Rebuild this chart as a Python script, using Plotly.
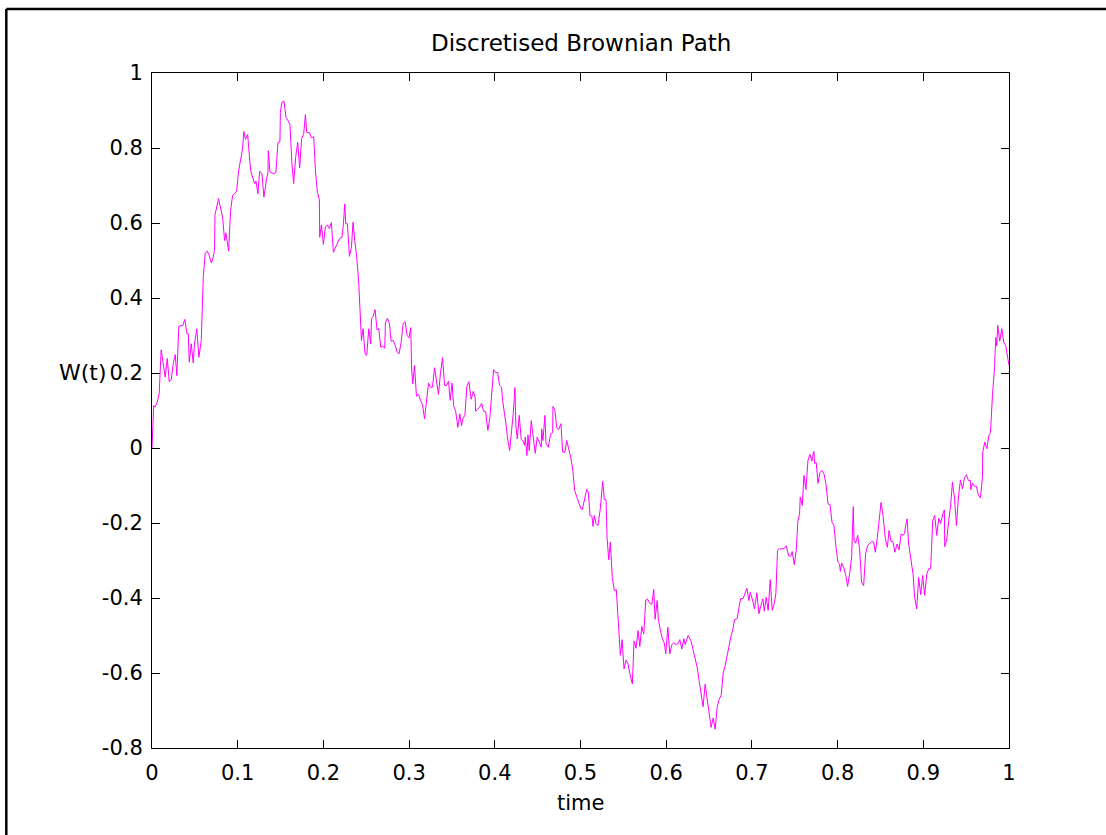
import plotly.graph_objects as go

# Discretised Brownian path W(t) on [0, 1]
t_vals = [
    0.0, 0.002, 0.0035, 0.0061, 0.0084, 0.0107, 0.0131, 0.0154, 0.0178, 0.0201,
    0.0224, 0.0248, 0.0271, 0.0290, 0.0313, 0.0360, 0.0383, 0.0407, 0.0423, 0.0435,
    0.0458, 0.0481, 0.0496, 0.0523, 0.0547, 0.0575, 0.0598, 0.0621, 0.0645, 0.0668,
    0.0692, 0.0710, 0.0730, 0.0735, 0.0777, 0.0800, 0.0824, 0.0847, 0.0862, 0.0894,
    0.0917, 0.0940, 0.0987, 0.1010, 0.1046, 0.1057, 0.1072, 0.1092, 0.1116, 0.1151,
    0.1197, 0.1213, 0.1236, 0.1256, 0.1283, 0.1306, 0.1334, 0.1353, 0.1357, 0.1376,
    0.1423, 0.1446, 0.1470, 0.1493, 0.1498, 0.1516, 0.1540, 0.1563, 0.1586, 0.1610,
    0.1633, 0.1653, 0.1676, 0.1700, 0.1723, 0.1746, 0.1770, 0.1790, 0.1805, 0.1836,
    0.1860, 0.1887, 0.1907, 0.1930, 0.1953, 0.1957, 0.1977, 0.2000, 0.2023, 0.2047,
    0.2070, 0.2093, 0.2117, 0.2140, 0.2187, 0.2217, 0.2234, 0.2249, 0.2261, 0.2280,
    0.2304, 0.2327, 0.2346, 0.2366, 0.2389, 0.2412, 0.2428, 0.2444, 0.2463, 0.2486,
    0.2506, 0.2529, 0.2553, 0.2561, 0.2580, 0.2603, 0.2626, 0.2646, 0.2669, 0.2693,
    0.2716, 0.2724, 0.2748, 0.2771, 0.2790, 0.2813, 0.2836, 0.2860, 0.2883, 0.2907,
    0.2930, 0.2953, 0.2977, 0.3000, 0.3020, 0.3028, 0.3043, 0.3063, 0.3086, 0.3110,
    0.3133, 0.3157, 0.3180, 0.3203, 0.3227, 0.3250, 0.3273, 0.3297, 0.3320, 0.3343,
    0.3367, 0.3390, 0.3414, 0.3437, 0.3460, 0.3479, 0.3502, 0.3519, 0.3542, 0.3569,
    0.3592, 0.3612, 0.3627, 0.3651, 0.3674, 0.3697, 0.3724, 0.3748, 0.3771, 0.3776,
    0.3799, 0.3822, 0.3846, 0.3869, 0.3893, 0.3919, 0.3943, 0.3963, 0.3986, 0.4009,
    0.4033, 0.4056, 0.4079, 0.4091, 0.4110, 0.4130, 0.4150, 0.4173, 0.4196, 0.4215,
    0.4235, 0.4246, 0.4262, 0.4285, 0.4308, 0.4332, 0.4348, 0.4355, 0.4375, 0.4387,
    0.4402, 0.4425, 0.4449, 0.4472, 0.4495, 0.4519, 0.4542, 0.4547, 0.4562, 0.4585,
    0.4597, 0.4624, 0.4652, 0.4675, 0.4679, 0.4702, 0.4722, 0.4745, 0.4772, 0.4792,
    0.4819, 0.4839, 0.4862, 0.4886, 0.4909, 0.4932, 0.4956, 0.4979, 0.5006, 0.5021,
    0.5044, 0.5072, 0.5091, 0.5111, 0.5134, 0.5146, 0.5161, 0.5181, 0.5204, 0.5231,
    0.5259, 0.5278, 0.5298, 0.5310, 0.5329, 0.5348, 0.5371, 0.5395, 0.5418, 0.5438,
    0.5465, 0.5485, 0.5508, 0.5532, 0.5555, 0.5578, 0.5605, 0.5625, 0.5648, 0.5672,
    0.5692, 0.5715, 0.5738, 0.5762, 0.5785, 0.5808, 0.5832, 0.5855, 0.5870, 0.5894,
    0.5909, 0.5932, 0.5956, 0.5979, 0.5995, 0.6019, 0.6042, 0.6065, 0.6089, 0.6112,
    0.6135, 0.6159, 0.6182, 0.6206, 0.6221, 0.6256, 0.6291, 0.6326, 0.6361, 0.6384,
    0.6408, 0.6431, 0.6454, 0.6478, 0.6501, 0.6524, 0.6548, 0.6571, 0.6595, 0.6618,
    0.6641, 0.6665, 0.6688, 0.6711, 0.6735, 0.6758, 0.6781, 0.6797, 0.6828, 0.6867,
    0.6898, 0.6942, 0.6965, 0.6980, 0.7004, 0.7030, 0.7058, 0.7082, 0.7105, 0.7128,
    0.7144, 0.7167, 0.7190, 0.7214, 0.7237, 0.7261, 0.7280, 0.7299, 0.7322, 0.7369,
    0.7401, 0.7428, 0.7451, 0.7471, 0.7494, 0.7517, 0.7537, 0.7556, 0.7564, 0.7588,
    0.7607, 0.7631, 0.7654, 0.7678, 0.7701, 0.7708, 0.7724, 0.7731, 0.7751, 0.7771,
    0.7794, 0.7818, 0.7841, 0.7864, 0.7888, 0.7911, 0.7935, 0.7958, 0.7981, 0.8005,
    0.8023, 0.8032, 0.8047, 0.8070, 0.8093, 0.8117, 0.8140, 0.8164, 0.8183, 0.8192,
    0.8210, 0.8234, 0.8257, 0.8280, 0.8304, 0.8327, 0.8350, 0.8374, 0.8397, 0.8421,
    0.8440, 0.8464, 0.8487, 0.8507, 0.8530, 0.8557, 0.8581, 0.8600, 0.8624, 0.8647,
    0.8668, 0.8694, 0.8717, 0.8741, 0.8764, 0.8783, 0.8791, 0.8811, 0.8829, 0.8857,
    0.8881, 0.8899, 0.8923, 0.8946, 0.8970, 0.8993, 0.9016, 0.9040, 0.9063, 0.9086,
    0.9095, 0.9110, 0.9133, 0.9157, 0.9180, 0.9203, 0.9227, 0.9246, 0.9250, 0.9273,
    0.9297, 0.9320, 0.9340, 0.9363, 0.9387, 0.9410, 0.9433, 0.9457, 0.9480, 0.9503,
    0.9527, 0.9550, 0.9554, 0.9574, 0.9597, 0.9620, 0.9644, 0.9667, 0.9690, 0.9694,
    0.9717, 0.9741, 0.9764, 0.9784, 0.9807, 0.9831, 0.9846, 0.9857, 0.9869, 0.9892,
    0.9916, 0.9939, 0.9962, 0.9986, 1.0,
]

w_vals = [
    0.0, 0.113, 0.109, 0.122, 0.145, 0.262, 0.225, 0.189, 0.239, 0.177,
    0.182, 0.225, 0.249, 0.193, 0.325, 0.327, 0.343, 0.305, 0.305, 0.229,
    0.278, 0.227, 0.278, 0.318, 0.242, 0.287, 0.455, 0.520, 0.525, 0.513,
    0.494, 0.505, 0.527, 0.622, 0.665, 0.638, 0.615, 0.553, 0.574, 0.525,
    0.633, 0.673, 0.684, 0.738, 0.783, 0.798, 0.844, 0.823, 0.836, 0.740,
    0.705, 0.712, 0.678, 0.738, 0.731, 0.669, 0.713, 0.735, 0.793, 0.737,
    0.731, 0.735, 0.815, 0.817, 0.895, 0.922, 0.925, 0.882, 0.873, 0.863,
    0.758, 0.705, 0.775, 0.815, 0.747, 0.825, 0.838, 0.889, 0.842, 0.841,
    0.827, 0.830, 0.740, 0.682, 0.662, 0.562, 0.595, 0.543, 0.589, 0.595,
    0.585, 0.601, 0.522, 0.534, 0.558, 0.562, 0.598, 0.651, 0.598, 0.598,
    0.511, 0.535, 0.602, 0.553, 0.509, 0.442, 0.340, 0.287, 0.318, 0.251,
    0.247, 0.318, 0.278, 0.345, 0.351, 0.369, 0.315, 0.319, 0.269, 0.271,
    0.266, 0.335, 0.346, 0.331, 0.285, 0.287, 0.275, 0.256, 0.251, 0.282,
    0.331, 0.337, 0.300, 0.294, 0.321, 0.215, 0.171, 0.220, 0.138, 0.143,
    0.127, 0.115, 0.078, 0.125, 0.173, 0.162, 0.162, 0.214, 0.175, 0.143,
    0.202, 0.241, 0.167, 0.167, 0.178, 0.127, 0.173, 0.113, 0.100, 0.055,
    0.091, 0.060, 0.078, 0.087, 0.165, 0.177, 0.130, 0.151, 0.135, 0.098,
    0.103, 0.109, 0.119, 0.098, 0.097, 0.047, 0.082, 0.135, 0.209, 0.201,
    0.202, 0.167, 0.162, 0.127, 0.100, 0.064, 0.024, -0.007, 0.047, 0.091,
    0.161, 0.060, 0.024, 0.087, 0.024, 0.017, 0.007, 0.029, -0.020, 0.035,
    -0.007, 0.073, 0.029, -0.014, 0.029, 0.015, 0.002, 0.051, 0.020, 0.087,
    0.013, 0.002, 0.038, 0.041, 0.111, 0.100, 0.055, 0.049, 0.065, -0.011,
    -0.011, 0.020, -0.002, -0.025, -0.056, -0.113, -0.130, -0.144, -0.162, -0.164,
    -0.140, -0.111, -0.118, -0.180, -0.182, -0.209, -0.180, -0.201, -0.207, -0.162,
    -0.089, -0.137, -0.138, -0.238, -0.298, -0.251, -0.345, -0.380, -0.378, -0.442,
    -0.553, -0.511, -0.589, -0.565, -0.576, -0.604, -0.629, -0.515, -0.534, -0.487,
    -0.529, -0.476, -0.496, -0.405, -0.404, -0.414, -0.417, -0.377, -0.457, -0.407,
    -0.457, -0.487, -0.509, -0.521, -0.549, -0.478, -0.549, -0.525, -0.519, -0.524,
    -0.522, -0.511, -0.536, -0.509, -0.524, -0.500, -0.515, -0.550, -0.585, -0.620,
    -0.660, -0.690, -0.630, -0.670, -0.700, -0.745, -0.720, -0.750, -0.690, -0.670,
    -0.660, -0.600, -0.580, -0.550, -0.530, -0.500, -0.480, -0.458, -0.455, -0.402,
    -0.401, -0.374, -0.407, -0.385, -0.402, -0.429, -0.386, -0.442, -0.420, -0.402,
    -0.435, -0.398, -0.433, -0.351, -0.433, -0.415, -0.387, -0.273, -0.269, -0.269,
    -0.261, -0.287, -0.289, -0.276, -0.311, -0.273, -0.193, -0.177, -0.131, -0.153,
    -0.073, -0.111, -0.033, -0.017, -0.035, -0.022, -0.009, -0.041, -0.039, -0.094,
    -0.065, -0.060, -0.069, -0.095, -0.149, -0.151, -0.198, -0.207, -0.265, -0.305,
    -0.309, -0.329, -0.307, -0.318, -0.337, -0.369, -0.335, -0.291, -0.156, -0.247,
    -0.254, -0.233, -0.269, -0.358, -0.367, -0.282, -0.260, -0.254, -0.249, -0.251,
    -0.278, -0.238, -0.185, -0.145, -0.180, -0.242, -0.265, -0.220, -0.249, -0.250,
    -0.278, -0.256, -0.272, -0.229, -0.233, -0.227, -0.211, -0.189, -0.256, -0.300,
    -0.337, -0.398, -0.429, -0.345, -0.391, -0.340, -0.393, -0.337, -0.322, -0.322,
    -0.247, -0.193, -0.180, -0.233, -0.187, -0.201, -0.176, -0.165, -0.263, -0.245,
    -0.193, -0.151, -0.091, -0.131, -0.207, -0.131, -0.085, -0.109, -0.080, -0.071,
    -0.087, -0.087, -0.111, -0.094, -0.102, -0.102, -0.127, -0.133, -0.078, -0.011,
    0.016, -0.002, 0.033, 0.042, 0.140, 0.215, 0.295, 0.273, 0.327, 0.285,
    0.318, 0.282, 0.273, 0.242, 0.220,
]

x_tick_vals = [0.0, 0.1, 0.2, 0.3, 0.4, 0.5, 0.6, 0.7, 0.8, 0.9, 1.0]
x_tick_text = ["0", "0.1", "0.2", "0.3", "0.4", "0.5", "0.6", "0.7", "0.8", "0.9", "1"]
y_tick_vals = [-0.8, -0.6, -0.4, -0.2, 0.0, 0.2, 0.4, 0.6, 0.8, 1.0]
y_tick_text = ["-0.8", "-0.6", "-0.4", "-0.2", "0", "0.2", "0.4", "0.6", "0.8", "1"]

FONT = "DejaVu Sans"

fig = go.Figure()
fig.add_trace(go.Scatter(
    x=t_vals, y=w_vals, mode="lines",
    line=dict(color="#ff00ff", width=1),
    hoverinfo="skip", showlegend=False,
))

axis_common = dict(
    showgrid=False, zeroline=False,
    showline=True, linecolor="black", linewidth=1, mirror="ticks",
    ticks="inside", ticklen=8, tickcolor="black", tickwidth=1,
    tickfont=dict(family=FONT, size=21, color="black"),
    tickmode="array",
)

fig.update_xaxes(range=[0, 1], tickvals=x_tick_vals, ticktext=x_tick_text,
                 ticklabelstandoff=6, **axis_common)
fig.update_yaxes(range=[-0.8, 1], tickvals=y_tick_vals, ticktext=y_tick_text,
                 ticklabelstandoff=4, **axis_common)

fig.update_layout(
    width=1106, height=835,
    margin=dict(l=152, r=97, t=73, b=87),
    paper_bgcolor="white", plot_bgcolor="white",
    font=dict(family=FONT, color="black"),
    annotations=[
        dict(text="Discretised Brownian Path", xref="paper", yref="paper",
             x=0.5, y=1.044, xanchor="center", yanchor="middle",
             showarrow=False, font=dict(family=FONT, size=23, color="black")),
        dict(text="time", xref="paper", yref="paper",
             x=0.5, y=-0.081, xanchor="center", yanchor="middle",
             showarrow=False, font=dict(family=FONT, size=21, color="black")),
        dict(text="W(t)", xref="paper", yref="paper",
             x=-0.05, y=0.557, xanchor="right", yanchor="middle",
             showarrow=False, font=dict(family=FONT, size=22, color="black")),
    ],
    shapes=[
        # outer figure frame (top and left edges)
        dict(type="line", xref="paper", yref="paper",
             x0=-0.170, y0=1.0948, x1=1.2, y1=1.0948,
             line=dict(color="black", width=2.5)),
        dict(type="line", xref="paper", yref="paper",
             x0=-0.170, y0=1.0948, x1=-0.170, y1=-0.2,
             line=dict(color="black", width=2.5)),
    ],
)

fig.write_html("out.html")
